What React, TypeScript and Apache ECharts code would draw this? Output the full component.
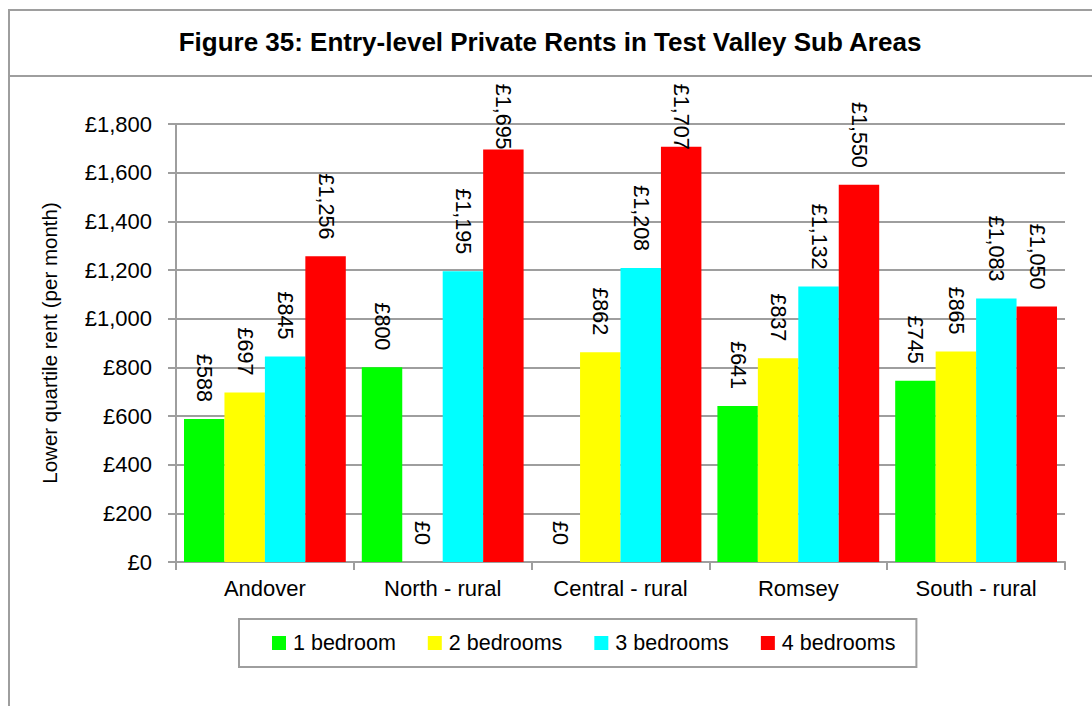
import React, { useEffect, useRef } from "react";
import * as echarts from "echarts";

const categories = ["Andover", "North - rural", "Central - rural", "Romsey", "South - rural"];
const seriesNames = ["1 bedroom", "2 bedrooms", "3 bedrooms", "4 bedrooms"];
const oneBed = [588, 800, 0, 641, 745];
const twoBed = [697, 0, 862, 837, 865];
const threeBed = [845, 1195, 1208, 1132, 1083];
const fourBed = [1256, 1695, 1707, 1550, 1050];
const yTicks = [0, 200, 400, 600, 800, 1000, 1200, 1400, 1600, 1800];
const colors = ["#00FF00", "#FFFF00", "#00FFFF", "#FF0000"];
// Excel pushed the two tallest labels down so they stay inside the chart area
const fourBedLabelDistance = [17, 0, -3, 17, 17];

const FONT = "'Liberation Sans', Arial, sans-serif";
const GRAY = "#9e9e9e";

const money = (v: number) => "£" + String(Math.round(v)).replace(/\B(?=(\d{3})+(?!\d))/g, ",");

export default function App() {
  const ref = useRef<HTMLDivElement>(null);
  useEffect(() => {
    if (!ref.current) return;
    const chart = echarts.init(ref.current, null, { renderer: "svg" });
    const labelBase = {
      show: true,
      position: "top",
      rotate: -90,
      align: "right",
      verticalAlign: "middle",
      distance: 17,
      color: "#000",
      fontFamily: FONT,
      fontSize: 21.5,
      formatter: (p: any) => money(p.value),
    };
    const allData = [oneBed, twoBed, threeBed, fourBed];
    const series = allData.map((arr, i) => ({
      name: seriesNames[i],
      type: "bar",
      barGap: "0%",
      barCategoryGap: "9%",
      itemStyle: { color: colors[i] },
      label: labelBase,
      data: arr.map((v, j) =>
        i === 3 ? { value: v, label: { distance: fourBedLabelDistance[j] } } : v
      ),
    }));
    chart.setOption({
      animation: false,
      backgroundColor: "#ffffff",
      title: {
        text: "Figure 35: Entry-level Private Rents in Test Valley Sub Areas",
        left: 550,
        top: 29,
        padding: 0,
        textAlign: "center",
        textStyle: {
          fontFamily: FONT,
          fontWeight: "bold",
          fontSize: 26,
          color: "#000",
        },
      },
      graphic: [
        { type: "line", shape: { x1: 8, y1: 10, x2: 1092, y2: 10 }, style: { stroke: GRAY, lineWidth: 2 } },
        { type: "line", shape: { x1: 8, y1: 76, x2: 1092, y2: 76 }, style: { stroke: GRAY, lineWidth: 2 } },
        { type: "line", shape: { x1: 9, y1: 9, x2: 9, y2: 706 }, style: { stroke: GRAY, lineWidth: 2 } },
      ],
      legend: {
        data: seriesNames,
        left: 239,
        top: 619,
        padding: [13, 21, 13, 33],
        borderColor: GRAY,
        borderWidth: 2,
        itemWidth: 14,
        itemHeight: 14,
        itemGap: 32,
        icon: "rect",
        textStyle: { fontFamily: FONT, fontSize: 21.5, color: "#000", padding: [0, 0, 0, 2] },
      },
      grid: { left: 176, right: 27, top: 124, bottom: 144 },
      xAxis: {
        type: "category",
        data: categories,
        axisLine: { lineStyle: { color: GRAY, width: 2 } },
        axisTick: { show: true, length: 8, lineStyle: { color: GRAY, width: 2 } },
        axisLabel: { interval: 0, fontFamily: FONT, fontSize: 22, color: "#000", margin: 15 },
      },
      yAxis: {
        type: "value",
        min: yTicks[0],
        max: yTicks[yTicks.length - 1],
        interval: yTicks[1] - yTicks[0],
        name: "Lower quartile rent (per month)",
        nameLocation: "middle",
        nameRotate: 90,
        nameGap: 116,
        nameTextStyle: { fontFamily: FONT, fontSize: 20.5, color: "#000" },
        axisLine: { show: true, lineStyle: { color: GRAY, width: 2 } },
        axisTick: { show: true, length: 8, lineStyle: { color: GRAY, width: 2 } },
        splitLine: { show: true, lineStyle: { color: GRAY, width: 2 } },
        axisLabel: {
          fontFamily: FONT,
          fontSize: 22,
          color: "#000",
          margin: 24,
          formatter: (v: number) => money(v),
        },
      },
      series,
    });
    return () => chart.dispose();
  }, []);
  return (
    <div
      ref={ref}
      style={{ position: "fixed", left: 0, top: 0, width: 1092, height: 706, background: "#fff" }}
    />
  );
}
